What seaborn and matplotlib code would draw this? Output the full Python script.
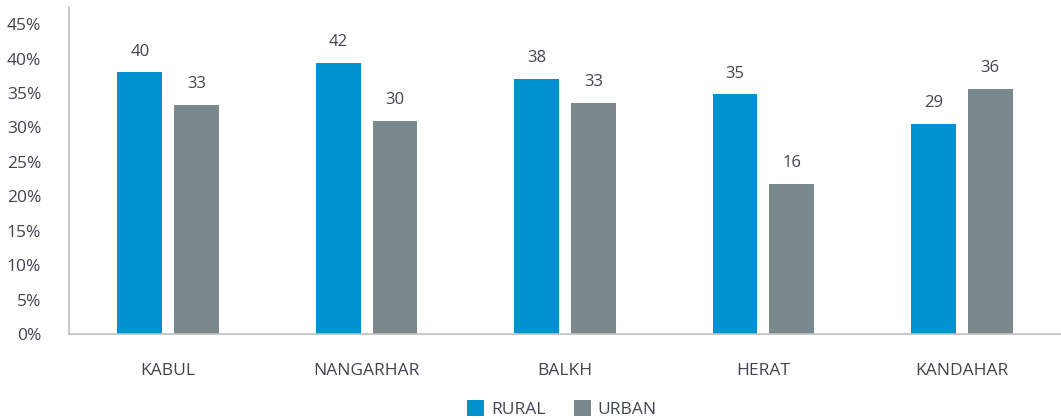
import matplotlib
matplotlib.use('Agg')
import matplotlib.pyplot as plt
import matplotlib.ticker as mticker
import pandas as pd
import seaborn as sns

provinces = ['KABUL', 'NANGARHAR', 'BALKH', 'HERAT', 'KANDAHAR']
rural_share = [38.0, 39.4, 37.0, 34.8, 30.5]
urban_share = [33.3, 31.0, 33.6, 21.8, 35.6]
# labels printed above the bars (as shown in the source, not the bar heights)
rural_labels = ['40', '42', '38', '35', '29']
urban_labels = ['33', '30', '33', '16', '36']
y_ticks = [0, 5, 10, 15, 20, 25, 30, 35, 40, 45]

df = pd.DataFrame({
    'province': provinces * 2,
    'area': ['RURAL'] * len(provinces) + ['URBAN'] * len(provinces),
    'share': [v / 100 for v in rural_share + urban_share],
    'label': rural_labels + urban_labels,
})

sns.set_theme(style='white')
plt.rcParams['font.family'] = ['Open Sans', 'DejaVu Sans']
text_col = '#3f4550'
spine_col = '#bfbfbf'

fig = plt.figure(figsize=(10.61, 4.19), dpi=100)
ax = fig.add_axes([69 / 1061, 1 - 334 / 419, (1061 - 69) / 1061, (334 - 7) / 419])

sns.barplot(data=df, x='province', y='share', hue='area', order=provinces,
            hue_order=['RURAL', 'URBAN'], palette=['#0091d0', '#7a898d'],
            width=0.572, gap=0.208, linewidth=0, saturation=1, ax=ax)

# value labels above bars
for cont, area in zip(ax.containers, ['RURAL', 'URBAN']):
    labs = df[df['area'] == area]['label'].tolist()
    for bar, lab in zip(cont, labs):
        ax.annotate(lab, (bar.get_x() + bar.get_width() / 2, bar.get_height()),
                    xytext=(0, 15), textcoords='offset points', ha='center',
                    va='center', fontsize=12, color=text_col)

ax.set_ylim(0, 0.475)
ax.set_yticks([t / 100 for t in y_ticks])
ax.yaxis.set_major_formatter(mticker.PercentFormatter(1.0, decimals=0))
ax.set_xlabel('')
ax.set_ylabel('')
ax.tick_params(axis='both', length=0, labelsize=12.5, labelcolor=text_col)
ax.tick_params(axis='y', pad=20)
ax.tick_params(axis='x', pad=21)

sns.despine(ax=ax, top=True, right=True)
for s in ['left', 'bottom']:
    ax.spines[s].set_color(spine_col)
    ax.spines[s].set_linewidth(1.2)

ax.legend(title=None, loc='center', bbox_to_anchor=(0.497, -0.229), ncol=2,
          frameon=False, fontsize=12.5, handlelength=1.0, handleheight=1.0,
          handletextpad=0.4, columnspacing=1.6, labelcolor=text_col)

fig.savefig('out.png', dpi=100)
